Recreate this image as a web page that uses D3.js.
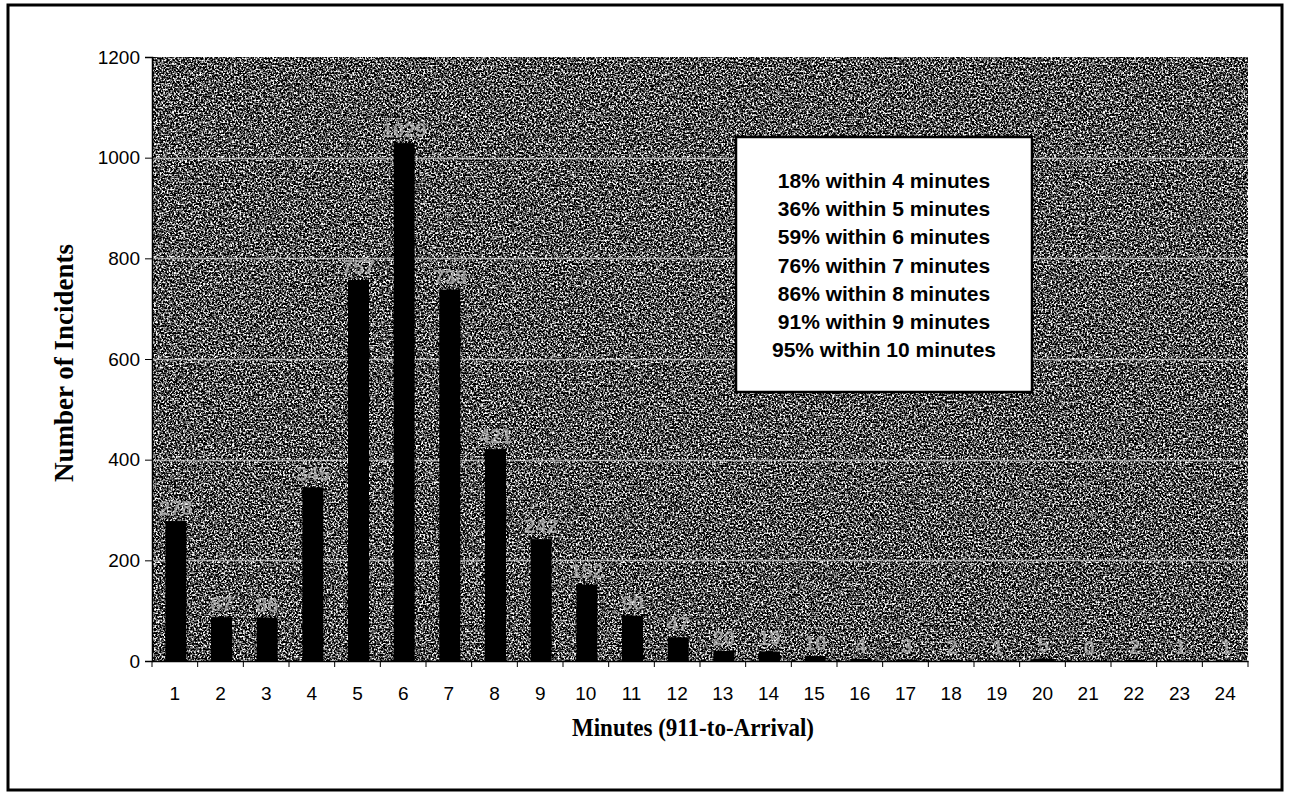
<!DOCTYPE html>
<html>
<head>
<meta charset="utf-8">
<script src="https://cdn.jsdelivr.net/npm/d3@7"></script>
<style>
  html, body { margin: 0; padding: 0; background: #fff; }
  svg { display: block; }
</style>
</head>
<body>
<svg id="chart" width="1290" height="798"></svg>
<script>
const categories = ["1","2","3","4","5","6","7","8","9","10","11","12","13","14","15","16","17","18","19","20","21","22","23","24"];
const incidents = [278, 87, 86, 345, 757, 1029, 738, 421, 242, 152, 90, 47, 20, 19, 10, 4, 3, 2, 1, 5, 0, 2, 1, 1];
const yTicks = [0, 200, 400, 600, 800, 1000, 1200];
const noteLines = [
  "18% within 4 minutes",
  "36% within 5 minutes",
  "59% within 6 minutes",
  "76% within 7 minutes",
  "86% within 8 minutes",
  "91% within 9 minutes",
  "95% within 10 minutes"
];
const xTitle = "Minutes (911-to-Arrival)";
const yTitle = "Number of Incidents";

const svg = d3.select("#chart");
const plot = { left: 152, right: 1248, top: 57, bottom: 661 };

// outer frame
svg.append("rect")
  .attr("x", 8).attr("y", 5).attr("width", 1274).attr("height", 785)
  .attr("fill", "#fff").attr("stroke", "#000").attr("stroke-width", 3);

// speckle texture filter for the plot background (scanned look)
const defs = svg.append("defs");
const filt = defs.append("filter").attr("id", "speckle")
  .attr("x", 0).attr("y", 0).attr("width", 1).attr("height", 1)
  .attr("color-interpolation-filters", "sRGB");
filt.append("feTurbulence").attr("type", "fractalNoise")
  .attr("baseFrequency", 0.55).attr("numOctaves", 2).attr("seed", 7).attr("result", "n");
filt.append("feColorMatrix").attr("in", "n").attr("type", "matrix")
  .attr("values", "3.6 0 0 0 -1.5  3.6 0 0 0 -1.5  3.6 0 0 0 -1.5  0 0 0 0 1");

const x = d3.scaleBand().domain(categories).range([plot.left, plot.right]).padding(0);
const y = d3.scaleLinear().domain([0, 1200]).range([plot.bottom, plot.top]);

// plot background
svg.append("rect")
  .attr("x", plot.left).attr("y", plot.top)
  .attr("width", plot.right - plot.left).attr("height", plot.bottom - plot.top)
  .attr("fill", "#444")
  .attr("filter", "url(#speckle)");

// gridlines
svg.append("g").selectAll("line")
  .data(yTicks.filter(d => d > 0 && d < 1200))
  .join("line")
  .attr("x1", plot.left).attr("x2", plot.right)
  .attr("y1", d => Math.round(y(d)) + 0.5).attr("y2", d => Math.round(y(d)) + 0.5)
  .attr("stroke", "#d8d8d8").attr("stroke-width", 1.5).attr("opacity", 0.7);

// bars
const barW = x.bandwidth() * 0.46;
svg.append("g").selectAll("rect")
  .data(incidents)
  .join("rect")
  .attr("x", (d, i) => x(categories[i]) + (x.bandwidth() - barW) / 2 + 1)
  .attr("y", d => y(d))
  .attr("width", barW)
  .attr("height", d => y(0) - y(d))
  .attr("fill", "#000");

// data labels (faint, as in the scan)
svg.append("g").selectAll("text")
  .data(incidents)
  .join("text")
  .attr("x", (d, i) => x(categories[i]) + x.bandwidth() / 2 + 1)
  .attr("y", d => y(d) - 6)
  .attr("text-anchor", "middle")
  .attr("font-family", "Arial, 'Liberation Sans', sans-serif")
  .attr("font-size", 20)
  .attr("font-weight", "bold")
  .attr("fill", "#b8b8b8")
  .attr("opacity", 0.75)
  .text(d => d);

// axes
const yAxis = d3.axisLeft(y).tickValues(yTicks).tickSize(7).tickPadding(5).tickFormat(d3.format("d"));
const gy = svg.append("g").attr("transform", `translate(${plot.left},0)`).call(yAxis);
gy.select(".domain").attr("stroke", "#000").attr("stroke-width", 1.5);
gy.selectAll(".tick line").attr("stroke", "#000");
gy.selectAll("text").attr("font-family", "Arial, 'Liberation Sans', sans-serif")
  .attr("font-size", 19).attr("fill", "#000");

const xAxis = d3.axisBottom(x).tickSize(0).tickPadding(26);
const gx = svg.append("g").attr("transform", `translate(0,${plot.bottom})`).call(xAxis);
gx.select(".domain").attr("stroke", "#000").attr("stroke-width", 1.5);
gx.selectAll("text").attr("font-family", "Arial, 'Liberation Sans', sans-serif")
  .attr("font-size", 19).attr("fill", "#000");
// ticks at category boundaries
const bounds = categories.map(c => x(c)).concat([x(categories[categories.length - 1]) + x.bandwidth()]);
svg.append("g").selectAll("line")
  .data(bounds)
  .join("line")
  .attr("x1", d => d).attr("x2", d => d)
  .attr("y1", plot.bottom).attr("y2", plot.bottom + 6)
  .attr("stroke", "#000").attr("stroke-width", 1);

// axis titles
svg.append("text")
  .attr("x", 693).attr("y", 736)
  .attr("text-anchor", "middle")
  .attr("font-family", "'Liberation Serif', 'Times New Roman', serif")
  .attr("font-weight", "bold")
  .attr("font-size", 25)
  .attr("textLength", 242)
  .attr("lengthAdjust", "spacingAndGlyphs")
  .text(xTitle);

svg.append("text")
  .attr("transform", "translate(73,363) rotate(-90)")
  .attr("text-anchor", "middle")
  .attr("font-family", "'Liberation Serif', 'Times New Roman', serif")
  .attr("font-weight", "bold")
  .attr("font-size", 27)
  .text(yTitle);

// note box
const box = { x: 736, y: 137, w: 296, h: 255 };
svg.append("rect")
  .attr("x", box.x).attr("y", box.y).attr("width", box.w).attr("height", box.h)
  .attr("fill", "#fff").attr("stroke", "#000").attr("stroke-width", 2.5);
svg.append("g").selectAll("text")
  .data(noteLines)
  .join("text")
  .attr("x", box.x + box.w / 2)
  .attr("y", (d, i) => 188 + i * 28.2)
  .attr("text-anchor", "middle")
  .attr("font-family", "Arial, 'Liberation Sans', sans-serif")
  .attr("font-weight", "bold")
  .attr("font-size", 21)
  .attr("fill", "#000")
  .text(d => d);
</script>
</body>
</html>
